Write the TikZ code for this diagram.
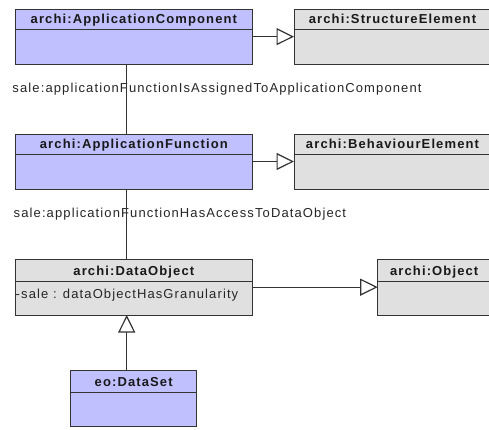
\documentclass[tikz,border=0pt]{standalone}
\usepackage{fontspec}
\setmainfont{Liberation Sans}
\newfontfamily\umlfont[LetterSpace=8.6]{Liberation Sans}
\usetikzlibrary{arrows.meta,calc}
\definecolor{classblue}{HTML}{C0C0FF}
\definecolor{classgrey}{HTML}{E0E0E0}
\definecolor{edge}{HTML}{333333}
\tikzset{
  umlbox/.style={draw=edge, line width=1pt, rectangle, anchor=north west,
    inner sep=0pt, outer sep=0pt},
  classtitle/.style={font=\umlfont\fontsize{13}{15}\selectfont\bfseries, text=black!90,
    inner sep=0pt, anchor=base},
  relname/.style={font=\umlfont\fontsize{13}{15}\selectfont, text=black!85,
    inner sep=0pt, anchor=base west},
  attr/.style={font=\umlfont\fontsize{13}{15}\selectfont, text=black!85,
    inner sep=0pt, anchor=base west},
  link/.style={draw=edge, line width=1.2pt},
  generalize/.style={link, -{Triangle[open, length=17.5pt, width=17pt, fill=white]}},
}
% class box: name, x, y, width, height, header height, fill colour, title
\newcommand{\umlclass}[8]{%
  \node[umlbox, fill=#7, minimum width=#4pt, minimum height=#5pt] (#1) at (#2,#3) {};
  \draw[draw=edge, line width=1pt] (#1.north west) ++(0,#6) -- ++(#4,0);
  \node[classtitle] (#1-title) at ($(#1.north west)+(#4/2,#6/2+4.6)$) {#8};
}
\begin{document}
\begin{tikzpicture}[x=1pt, y=-1pt]
  \useasboundingbox (0,0) rectangle (489,429);
  \fill[white] (0,0) rectangle (489,429);
  \clip (0,0) rectangle (489,429);

  \umlclass{ac}{15}{9}{237.7}{55.3}{20.3}{classblue}{archi:ApplicationComponent}
  \umlclass{se}{294}{9}{197}{55.3}{20.3}{classgrey}{archi:StructureElement}
  \umlclass{af}{15}{134}{237.7}{55}{20.3}{classblue}{archi:ApplicationFunction}
  \umlclass{be}{294}{134}{197}{55}{20.3}{classgrey}{archi:BehaviourElement}
  \umlclass{do}{15}{259.3}{237.7}{55.7}{22.4}{classgrey}{archi:DataObject}
  \umlclass{ob}{377.7}{259.3}{113}{55.7}{22.4}{classgrey}{archi:Object}
  \umlclass{ds}{70.7}{370.7}{126}{55.3}{22}{classblue}{eo:DataSet}

  \node[attr] (do-attr) at (15.5,298.3) {-sale : dataObjectHasGranularity};

  % association labels
  \node[relname] (assigned) at (12.3,92.7) {sale:applicationFunctionIsAssignedToApplicationComponent};
  \node[relname] (access) at (13.5,217.7) {sale:applicationFunctionHasAccessToDataObject};

  % vertical axis shared by the associations and the generalization
  \coordinate (axis) at (126.7,0);

  % associations
  \draw[link] (ac.south -| axis) -- (af.north -| axis);
  \draw[link] (af.south -| axis) -- (do.north -| axis);

  % generalizations
  \draw[generalize] (ac.east) -- (se.west);
  \draw[generalize] (af.east) -- (be.west);
  \draw[generalize] (do.east) -- (ob.west);
  \draw[generalize] (ds.north -| axis) -- (do.south -| axis);
\end{tikzpicture}
\end{document}
